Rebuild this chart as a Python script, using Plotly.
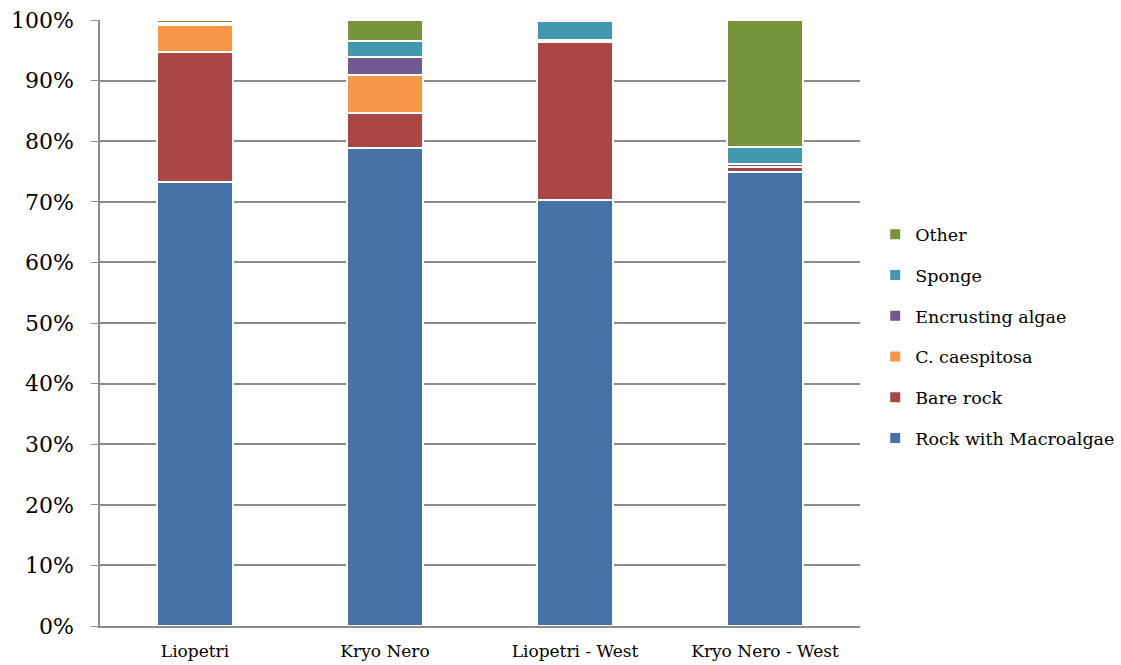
import plotly.graph_objects as go

sites = ["Liopetri", "Kryo Nero", "Liopetri - West", "Kryo Nero - West"]

rock_with_macroalgae = [73.3, 78.9, 70.3, 74.9]
bare_rock = [21.4, 5.7, 26.0, 0.8]
c_caespitosa = [4.4, 6.4, 0.0, 0.0]
encrusting_algae = [0.3, 2.9, 0.4, 0.6]
sponge = [0.1, 2.6, 3.1, 2.7]
other = [0.5, 3.5, 0.2, 21.0]

series = [
    ("Rock with Macroalgae", rock_with_macroalgae, "#4572a7"),
    ("Bare rock", bare_rock, "#aa4643"),
    ("C. caespitosa", c_caespitosa, "#f79646"),
    ("Encrusting algae", encrusting_algae, "#71588f"),
    ("Sponge", sponge, "#4198af"),
    ("Other", other, "#77933c"),
]

font_family = "DejaVu Serif, Liberation Serif, serif"

fig = go.Figure()
n = len(series)
for i, (name, vals, color) in enumerate(series):
    fig.add_trace(go.Bar(
        x=sites,
        y=[v / 100 for v in vals],
        name=name,
        legendgroup=name,
        legendrank=n - i,
        marker=dict(color=color, line=dict(color="white", width=2)),
        width=0.4,
    ))

fig.update_layout(
    barmode="stack",
    width=1121,
    height=665,
    paper_bgcolor="white",
    plot_bgcolor="white",
    margin=dict(l=100, r=261, t=20, b=39, autoexpand=False),
    font=dict(family=font_family, color="black"),
    legend=dict(
        traceorder="grouped",
        tracegroupgap=15,
        x=1.02,
        xanchor="left",
        y=0.478,
        yanchor="middle",
        font=dict(size=17.5, family=font_family),
        itemwidth=30,
    ),
    showlegend=True,
)

fig.update_yaxes(
    range=[0, 1],
    tickformat=".0%",
    dtick=0.1,
    tickfont=dict(size=22, family=font_family),
    showgrid=True,
    gridcolor="#8c8c8c",
    gridwidth=1.5,
    showline=True,
    linecolor="#8c8c8c",
    linewidth=1.5,
    ticks="outside",
    ticklen=7,
    tickcolor="#8c8c8c",
    ticklabelstandoff=13,
    zeroline=False,
    automargin=False,
)

fig.update_xaxes(
    tickfont=dict(size=17, family=font_family),
    showline=True,
    linecolor="#8c8c8c",
    linewidth=1.5,
    ticks="",
    ticklabelstandoff=9,
    showgrid=False,
    automargin=False,
)

fig.write_html("out.html")
